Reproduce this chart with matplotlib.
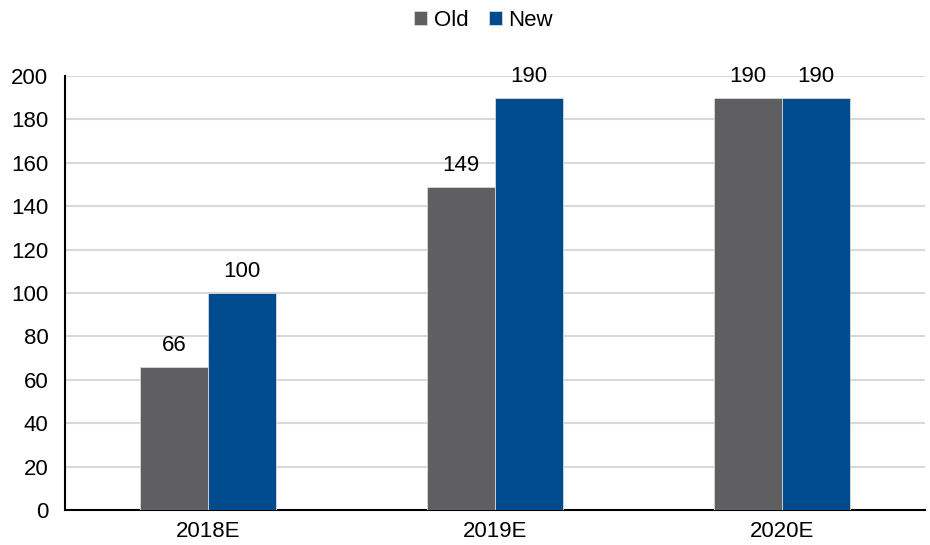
import matplotlib
matplotlib.use("Agg")
import matplotlib.pyplot as plt
import numpy as np

years = ["2018E", "2019E", "2020E"]
old_vals = [66, 149, 190]
new_vals = [100, 190, 190]

plt.rcParams["font.family"] = ["Liberation Sans", "DejaVu Sans"]

fig = plt.figure(figsize=(9.3, 5.45), dpi=100)
ax = fig.add_axes([0.0699, 0.0642, 0.9247, 0.7964])

x = np.arange(len(years))
w = 0.237
bars_old = ax.bar(x - w / 2, old_vals, w, color="#5f5f61", edgecolor="#d9d9d9",
                  linewidth=0.6, label="Old", zorder=3)
bars_new = ax.bar(x + w / 2, new_vals, w, color="#004b8d", edgecolor="#d9d9d9",
                  linewidth=0.6, label="New", zorder=3)

for bars in (bars_old, bars_new):
    for b in bars:
        ax.annotate(f"{b.get_height():.0f}", (b.get_x() + b.get_width() / 2, b.get_height()),
                    xytext=(0, 8), textcoords="offset points", ha="center", va="bottom",
                    fontsize=16, color="black")

ax.set_xlim(-0.5, 2.5)
ax.set_ylim(0, 200)
ax.set_yticks(range(0, 201, 20))
ax.set_xticks(x)
ax.set_xticklabels(years)
ax.tick_params(axis="both", length=0, labelsize=16, colors="black")
ax.tick_params(axis="y", pad=12)
ax.tick_params(axis="x", pad=8)
ax.yaxis.grid(True, color="#d9d9d9", linewidth=1.5, zorder=0)
ax.set_axisbelow(True)
for s in ("top", "right"):
    ax.spines[s].set_visible(False)
ax.spines["left"].set_linewidth(1.5)
ax.spines["bottom"].set_linewidth(1.5)

fig.legend(handles=[bars_old, bars_new], labels=["Old", "New"], loc="center",
           bbox_to_anchor=(0.52, 0.963), ncol=2, frameon=False, fontsize=16,
           handlelength=0.6, handleheight=0.6, handletextpad=0.3, columnspacing=0.9)

fig.savefig("out.png", dpi=100)
